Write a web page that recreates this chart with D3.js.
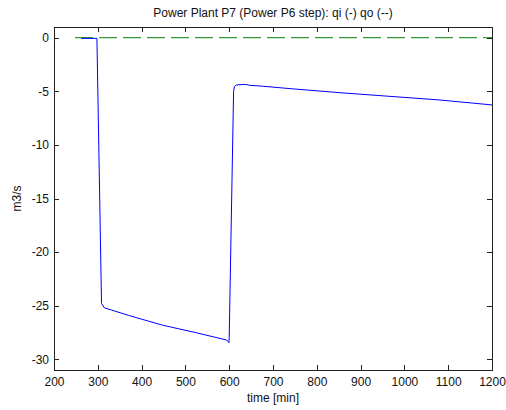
<!DOCTYPE html>
<html>
<head>
<meta charset="utf-8">
<script src="https://cdn.jsdelivr.net/npm/d3@7"></script>
<style>
  body { margin: 0; background: #fff; }
  text { font-family: "Liberation Sans", Arial, sans-serif; }
</style>
</head>
<body>
<div id="chart"></div>
<script>
// qi (solid): time [min], m3/s
var qiTime = [262, 298, 308.5, 315, 331, 370, 446, 522, 594, 599.5, 600, 610, 612, 616, 636, 647, 678, 739, 853, 967, 1081, 1200];
var qiFlow = [-0.06, -0.06, -24.8, -25.2, -25.4, -25.9, -26.8, -27.5, -28.2, -28.45, -28.0, -5.0, -4.55, -4.41, -4.35, -4.44, -4.53, -4.75, -5.13, -5.47, -5.81, -6.27];
// qo (dashed)
var qoTime = [248, 1200];
var qoFlow = [0, 0];

var xTicks = [200, 300, 400, 500, 600, 700, 800, 900, 1000, 1100, 1200];
var yTicks = [-30, -25, -20, -15, -10, -5, 0];

var width = 506,
    height = 410,
    margin = {top: 27, right: 14, bottom: 40, left: 54};

var x = d3.scaleLinear().domain([200, 1200]).range([margin.left, width - margin.right]);
var y = d3.scaleLinear().domain([-31, 1]).range([height - margin.bottom, margin.top]);

var svg = d3.select("#chart")
    .append("svg")
    .attr("width", width)
    .attr("height", height);

var line = d3.line()
    .x(function(d) { return x(d[0]); })
    .y(function(d) { return y(d[1]); });

var qi = qiTime.map(function(t, i) { return [t, qiFlow[i]]; });
var qo = qoTime.map(function(t, i) { return [t, qoFlow[i]]; });

svg.append("path")
    .datum(qo)
    .attr("d", line)
    .attr("fill", "none")
    .attr("stroke", "#008000")
    .attr("stroke-width", 1)
    .attr("stroke-dasharray", "18,6");

svg.append("path")
    .datum(qi)
    .attr("d", line)
    .attr("fill", "none")
    .attr("stroke", "#0000ff")
    .attr("stroke-width", 1);

// plain hyphen for negatives, like the original
var fmt = function(d) { return String(d); };

// axes, ticks pointing inwards
function style(g) {
  g.selectAll("path, line").attr("stroke", "#222").attr("shape-rendering", "crispEdges");
  g.selectAll("text").attr("fill", "#111").style("font-size", "12px");
}

svg.append("g")
    .attr("transform", "translate(0," + (height - margin.bottom) + ")")
    .call(d3.axisBottom(x).tickValues(xTicks).tickSize(-5).tickSizeOuter(0).tickPadding(7).tickFormat(fmt))
    .call(style);

svg.append("g")
    .attr("transform", "translate(0," + margin.top + ")")
    .call(d3.axisTop(x).tickValues(xTicks).tickSize(-5).tickSizeOuter(0).tickFormat(""))
    .call(style);

svg.append("g")
    .attr("transform", "translate(" + margin.left + ",0)")
    .call(d3.axisLeft(y).tickValues(yTicks).tickSize(-5).tickSizeOuter(0).tickPadding(5).tickFormat(fmt))
    .call(style);

svg.append("g")
    .attr("transform", "translate(" + (width - margin.right) + ",0)")
    .call(d3.axisRight(y).tickValues(yTicks).tickSize(-5).tickSizeOuter(0).tickFormat(""))
    .call(style);

svg.selectAll(".domain").attr("fill", "none");

svg.append("text")
    .attr("x", (margin.left + width - margin.right) / 2)
    .attr("y", 16.5)
    .attr("text-anchor", "middle")
    .style("font-size", "12px")
    .attr("fill", "#111")
    .text("Power Plant P7 (Power P6 step): qi (-) qo (--)");

svg.append("text")
    .attr("x", (margin.left + width - margin.right) / 2)
    .attr("y", 402)
    .attr("text-anchor", "middle")
    .style("font-size", "12px")
    .attr("fill", "#111")
    .text("time [min]");

svg.append("text")
    .attr("transform", "translate(21," + ((margin.top + height - margin.bottom) / 2) + ") rotate(-90)")
    .attr("text-anchor", "middle")
    .style("font-size", "12px")
    .attr("fill", "#111")
    .text("m3/s");
</script>
</body>
</html>
